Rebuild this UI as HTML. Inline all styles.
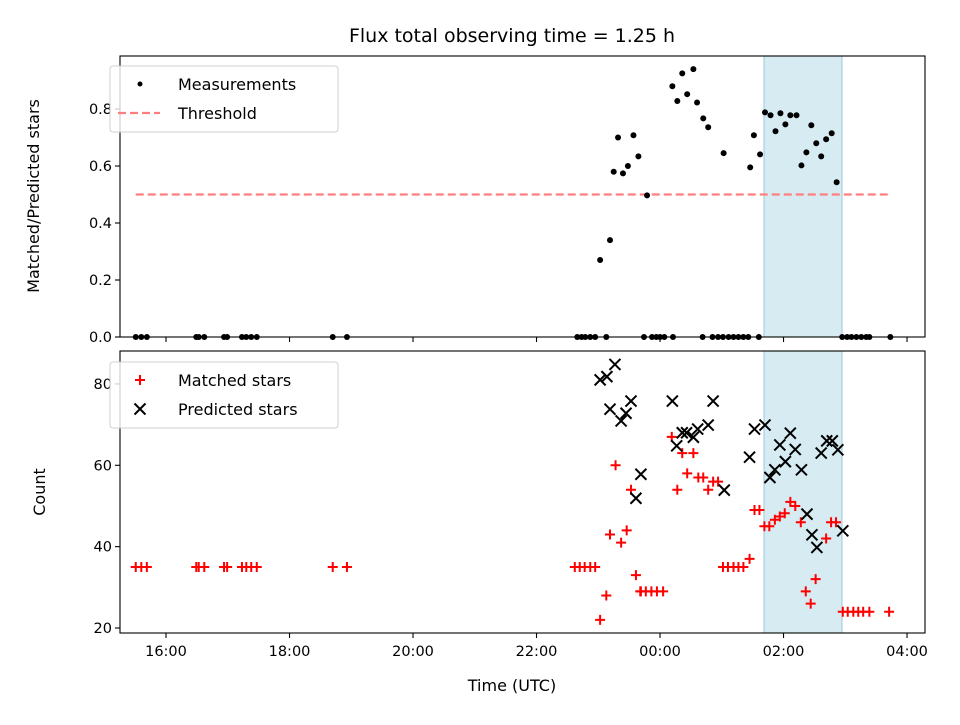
<!DOCTYPE html>
<html><head><meta charset="utf-8"><style>
body{margin:0;background:#fff}
svg{font-family:"DejaVu Sans","Liberation Sans",sans-serif}
</style></head><body>
<svg id="chart" width="960" height="720" viewBox="0 0 960 720" xmlns="http://www.w3.org/2000/svg"></svg>
<script>
// times in hours relative to 00:00 UTC (negative = previous day)
const ratioTimes=[-8.49,-8.40,-8.31,-7.51,-7.47,-7.38,-7.06,-7.01,-6.77,-6.70,-6.62,-6.53,-5.30,-5.07,-1.34,-1.27,-1.21,-1.13,-1.05,-0.97,-0.87,-0.81,-0.75,-0.68,-0.60,-0.52,-0.43,-0.35,-0.26,-0.21,-0.13,-0.06,0.00,0.07,0.20,0.21,0.28,0.36,0.44,0.54,0.60,0.69,0.70,0.78,0.85,0.94,1.02,1.03,1.11,1.19,1.27,1.35,1.43,1.46,1.52,1.60,1.62,1.70,1.79,1.87,1.95,2.03,2.11,2.21,2.29,2.37,2.45,2.53,2.61,2.69,2.78,2.86,2.95,3.03,3.10,3.18,3.26,3.34,3.39,3.73];
const ratioValues=[0,0,0,0,0,0,0,0,0,0,0,0,0,0,0,0,0,0,0,0.27,0,0.34,0.58,0.70,0.574,0.60,0.708,0.634,0,0.497,0,0,0,0,0.88,0,0.828,0.925,0.852,0.94,0.823,0,0.767,0.736,0,0,0,0.645,0,0,0,0,0,0.595,0.708,0,0.641,0.788,0.778,0.722,0.785,0.746,0.778,0.778,0.602,0.648,0.743,0.68,0.634,0.694,0.715,0.543,0,0,0,0,0,0,0,0];
const threshold=0.5;
const matchedTimes=[-8.49,-8.40,-8.31,-7.51,-7.47,-7.38,-7.06,-7.01,-6.77,-6.70,-6.62,-6.53,-5.30,-5.07,-1.38,-1.30,-1.22,-1.13,-1.05,-0.97,-0.87,-0.81,-0.72,-0.63,-0.54,-0.47,-0.39,-0.31,-0.32,-0.23,-0.14,-0.05,0.05,0.19,0.28,0.36,0.44,0.54,0.62,0.70,0.78,0.86,0.94,1.02,1.10,1.19,1.27,1.35,1.45,1.53,1.61,1.69,1.77,1.86,1.94,2.02,2.11,2.19,2.28,2.36,2.44,2.52,2.69,2.77,2.85,2.96,3.04,3.13,3.21,3.29,3.39,3.71];
const matchedValues=[35,35,35,35,35,35,35,35,35,35,35,35,35,35,35,35,35,35,35,22,28,43,60,41,44,54,33,29,29,29,29,29,29,67,54,63,58,63,57,57,54,56,56,35,35,35,35,35,37,49,49,45,45,46.6,47.4,48.2,51,50,46,29,26,32,42,46,46,24,24,24,24,24,24,24];
const predictedTimes=[-0.97,-0.86,-0.73,-0.81,-0.47,-0.63,-0.55,-0.31,-0.39,0.20,0.27,0.36,0.43,0.54,0.61,0.78,0.86,1.04,1.45,1.53,1.70,1.78,1.86,1.94,2.03,2.11,2.19,2.29,2.38,2.54,2.46,2.61,2.70,2.79,2.88,2.96];
const predictedValues=[81,81.8,84.8,73.8,75.8,70.9,72.8,57.8,51.9,75.8,64.8,68,68,66.9,68.9,69.9,75.8,53.9,62,68.9,69.9,57,58.9,65,60.9,67.9,63.9,58.9,48,39.8,42.9,63,66,66,63.8,43.9];
const tickHours=[-8,-6,-4,-2,0,2,4];
const tickLabels=["16:00","18:00","20:00","22:00","00:00","02:00","04:00"];
const ratioTicks=[0,0.2,0.4,0.6,0.8];
const countTicks=[20,40,60,80];
const spanStart=1.684, spanEnd=2.947;

const NS="http://www.w3.org/2000/svg";
const svg=document.getElementById('chart');
function mk(tag,attrs,parent){const e=document.createElementNS(NS,tag);for(const k in attrs)e.setAttribute(k,attrs[k]);(parent||svg).appendChild(e);return e;}
const L=120,R=925;
const xMin=-8.745,xMax=4.291;
const x=h=>L+(h-xMin)/(xMax-xMin)*(R-L);
const T1=56,B1=337,T2=351,B2=633;
const y1=v=>B1-(v-0)/(0.986)*(B1-T1);
const y2=v=>B2-(v-18.77)/(88.1-18.77)*(B2-T2);

let t=mk('text',{x:512,y:42,'text-anchor':'middle','font-size':19});
t.textContent="Flux total observing time = 1.25 h";



function panel(T,B,name){
  const g=mk('g',{});
  
  
  const sp=mk('rect',{x:x(spanStart),y:T,width:x(spanEnd)-x(spanStart),height:B-T,fill:'#add8e6','fill-opacity':0.5,stroke:'#9ccad8','stroke-width':1},g);
  
  
  return g;
}
function frame(T,B,g){
  mk('rect',{x:L,y:T,width:R-L,height:B-T,fill:'none',stroke:'#000','stroke-width':1.1},g);
  tickHours.forEach((h,i)=>{
    const tk=mk('line',{x1:x(h),x2:x(h),y1:B,y2:B+5,stroke:'#000','stroke-width':1.1},g);
    
    
  });
}

const g1=panel(T1,B1,'top-panel');
const th=mk('line',{x1:x(ratioTimes[0]),x2:x(ratioTimes[ratioTimes.length-1]),y1:y1(threshold),y2:y1(threshold),stroke:'#ff7f7f','stroke-width':2.2,'stroke-dasharray':'8,4'},g1);


ratioTimes.forEach((h,i)=>{
  const c=mk('circle',{cx:x(h),cy:y1(ratioValues[i]),r:3,fill:'#000'},g1);
  
  
});
frame(T1,B1,g1);
ratioTicks.forEach(v=>{
  mk('line',{x1:L-5,x2:L,y1:y1(v),y2:y1(v),stroke:'#000','stroke-width':1.1},g1);
  const l=mk('text',{x:L-8,y:y1(v)+5,'text-anchor':'end','font-size':14.5},g1);
  l.textContent=v.toFixed(1);
  
  
});
let yl=mk('text',{transform:'translate(39,196) rotate(-90)','text-anchor':'middle','font-size':16});
yl.textContent="Matched/Predicted stars";



const g2=panel(T2,B2,'bottom-panel');
function plus(cx,cy,p){const d=`M${cx-5},${cy}H${cx+5}M${cx},${cy-5}V${cy+5}`;return mk('path',{d:d,stroke:'#ff0000','stroke-width':2,fill:'none'},p);}
function cross(cx,cy,p){const d=`M${cx-5.5},${cy-5.5}L${cx+5.5},${cy+5.5}M${cx-5.5},${cy+5.5}L${cx+5.5},${cy-5.5}`;return mk('path',{d:d,stroke:'#000','stroke-width':2,fill:'none'},p);}
matchedTimes.forEach((h,i)=>{
  const m=plus(x(h),y2(matchedValues[i]),g2);
  
  
});
predictedTimes.forEach((h,i)=>{
  const m=cross(x(h),y2(predictedValues[i]),g2);
  
  
});
frame(T2,B2,g2);
countTicks.forEach(v=>{
  mk('line',{x1:L-5,x2:L,y1:y2(v),y2:y2(v),stroke:'#000','stroke-width':1.1},g2);
  const l=mk('text',{x:L-8,y:y2(v)+5,'text-anchor':'end','font-size':14.5},g2);
  l.textContent=v;
  
  
});
tickHours.forEach((h,i)=>{
  const l=mk('text',{x:x(h),y:B2+23,'text-anchor':'middle','font-size':14.5},g2);
  l.textContent=tickLabels[i];
  
  
});
yl=mk('text',{transform:'translate(45,492) rotate(-90)','text-anchor':'middle','font-size':16});
yl.textContent="Count";


let xl=mk('text',{x:512,y:691,'text-anchor':'middle','font-size':16});
xl.textContent="Time (UTC)";



function legend(y0,items,name){
  const g=mk('g',{});
  
  
  mk('rect',{x:110,y:y0,width:228,height:66,rx:3,fill:'#fff','fill-opacity':0.8,stroke:'#d0d0d0','stroke-width':1},g);
  items.forEach((it,i)=>{
    const yy=y0+18+i*29;
    it.draw(g,140,yy);
    const tx=mk('text',{x:178,y:yy+6,'font-size':16},g);
    tx.textContent=it.label;
    
    
  });
}
legend(66,[
  {label:'Measurements',draw:(g,cx,cy)=>mk('circle',{cx:cx,cy:cy,r:2.5,fill:'#000'},g)},
  {label:'Threshold',draw:(g,cx,cy)=>mk('line',{x1:cx-22,x2:cx+20,y1:cy,y2:cy,stroke:'#ff7f7f','stroke-width':2.2,'stroke-dasharray':'8,4'},g)}
],'top-legend');
legend(362,[
  {label:'Matched stars',draw:(g,cx,cy)=>plus(cx,cy,g)},
  {label:'Predicted stars',draw:(g,cx,cy)=>cross(cx,cy,g)}
],'bottom-legend');
</script>
</body></html>
